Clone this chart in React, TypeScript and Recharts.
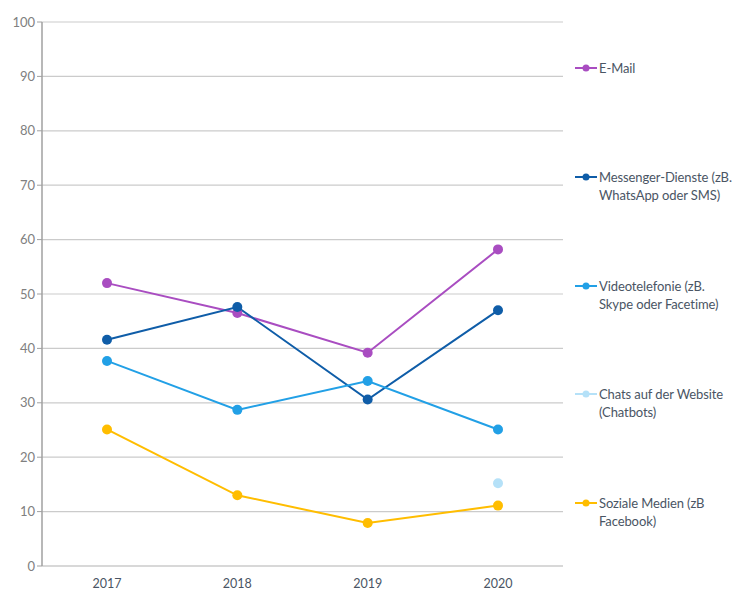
import { CartesianGrid, Line, LineChart, XAxis, YAxis } from "recharts";

const years = ["2017", "2018", "2019", "2020"];
const email = [52.0, 46.5, 39.2, 58.2];
const messenger = [41.6, 47.6, 30.6, 47.0];
const video = [37.7, 28.7, 34.0, 25.1];
const chatbots = [null, null, null, 15.2];
const social = [25.1, 13.0, 7.9, 11.1];
const yTicks = [0, 10, 20, 30, 40, 50, 60, 70, 80, 90, 100];

const series = [
  { key: "email", name: "E-Mail", lines: ["E-Mail"], color: "#A94DC1" },
  { key: "messenger", name: "Messenger-Dienste (zB. WhatsApp oder SMS)", lines: ["Messenger-Dienste (zB.", "WhatsApp oder SMS)"], color: "#0F5DA8" },
  { key: "video", name: "Videotelefonie (zB. Skype oder Facetime)", lines: ["Videotelefonie (zB.", "Skype oder Facetime)"], color: "#22A0E6" },
  { key: "chatbots", name: "Chats auf der Website (Chatbots)", lines: ["Chats auf der Website", "(Chatbots)"], color: "#B5E1F8" },
  { key: "social", name: "Soziale Medien (zB Facebook)", lines: ["Soziale Medien (zB", "Facebook)"], color: "#FFBD00" },
];

const data = years.map((year, i) => ({
  year,
  email: email[i],
  messenger: messenger[i],
  video: video[i],
  chatbots: chatbots[i],
  social: social[i],
}));

const font = "Lato, 'Noto Sans', sans-serif";

function SideLegend() {
  return (
    <div style={{ position: "absolute", left: 575, top: 59, width: 158, fontFamily: font }}>
      {series.map(s => (
        <div key={s.key} style={{ height: 108.75, display: "flex", alignItems: "flex-start" }}>
          <svg width={24} height={18} style={{ flex: "none" }}>
            <line x1={0} y1={9} x2={22} y2={9} stroke={s.color} strokeWidth={2} />
            <circle cx={11} cy={9} r={3.5} fill={s.color} />
          </svg>
          <div style={{ fontSize: 13, lineHeight: "18px", color: "#4A5564", letterSpacing: -0.1 }}>
            {s.lines.map(l => (
              <div key={l} style={{ whiteSpace: "nowrap" }}>{l}</div>
            ))}
          </div>
        </div>
      ))}
    </div>
  );
}

export default function App() {
  return (
    <div style={{ position: "absolute", left: 0, top: 0, width: 733, height: 591, background: "#fff" }}>
      <LineChart width={733} height={591} data={data} margin={{ top: 22, right: 170, bottom: 0, left: 0 }}>
        <CartesianGrid vertical={false} stroke="#CBCBCB" strokeWidth={1.2} />
        <XAxis
          dataKey="year"
          padding={{ left: 65, right: 65 }}
          tickLine={false}
          axisLine={{ stroke: "#CBCBCB", strokeWidth: 1.2 }}
          tick={{ fontSize: 12.5, fill: "#4A5564", fontFamily: font }}
          tickMargin={7}
          height={25}
        />
        <YAxis
          domain={[0, 100]}
          ticks={yTicks}
          width={42}
          interval={0}
          axisLine={{ stroke: "#A0A0A0", strokeWidth: 1.5 }}
          tickLine={{ stroke: "#A0A0A0" }}
          tickSize={5}
          tick={{ fontSize: 13, fill: "#808080", fontFamily: font }}
        />
        {series.map(s => (
          <Line
            key={s.key}
            name={s.name}
            dataKey={s.key}
            type="linear"
            stroke={s.color}
            strokeWidth={2}
            dot={{ r: 5, fill: s.color, stroke: s.color, strokeWidth: 0 }}
            activeDot={false}
            connectNulls={false}
            isAnimationActive={false}
          />
        ))}
      </LineChart>
      <SideLegend />
    </div>
  );
}
